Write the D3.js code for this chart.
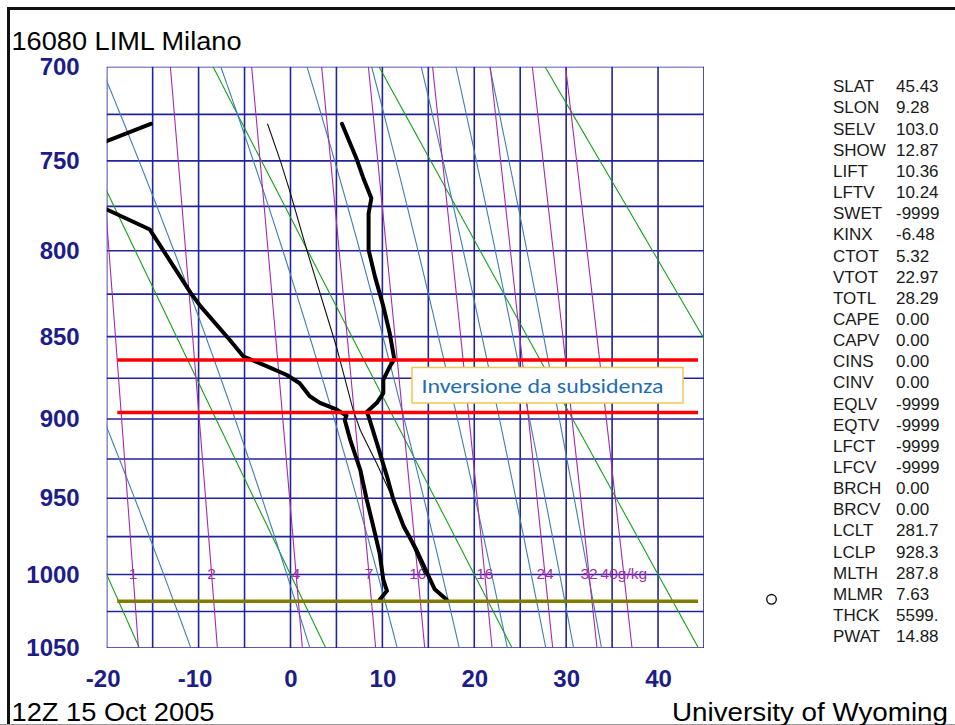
<!DOCTYPE html>
<html><head><meta charset="utf-8">
<script src="https://cdn.jsdelivr.net/npm/d3@7"></script>
<style>html,body{margin:0;padding:0;background:#fff;}svg{display:block;}</style>
</head><body>
<script>
// ---------- data ----------
const title = "16080 LIML Milano";
const dateLabel = "12Z 15 Oct 2005";
const sourceLabel = "University of Wyoming";
const pressureGrid = d3.range(700, 1051, 25);
const pressureLabels = [700, 750, 800, 850, 900, 950, 1000, 1050];
const tempGrid = d3.range(-20, 46, 5);
const tempLabels = [-20, -10, 0, 10, 20, 30, 40];
// dry adiabats: potential temperature (deg C at 1000 hPa)
const dryAdiabats = [-20, 0, 20, 40, 60];
// moist adiabats: temperature (deg C) at 1000 hPa
const moistAdiabats = [-13.8, -0.4, 9.5, 16.5, 21.9, 26.2, 29.3, 32.4];
// mixing ratio lines (g/kg)
const mixRatios = [1, 2, 4, 7, 10, 16, 24, 32, 40];
const mixLabels = ["1", "2", "4", "7", "10", "16", "24", "32", "40g/kg"];
// sounding: [pressure hPa, temperature C]
const temperature = [[730,5.6],[749,7.2],[759,7.9],[770.5,8.8],[779,8.5],[790,8.5],[799.5,8.5],[815,9.2],[832,10.1],[848,10.8],[863.5,11.3],[868,10.8],[876,10.1],[884,10.1],[890,9.4],[895.7,8.3],[898.4,8.5],[915,9.4],[936,10.5],[951,11.2],[968,12.3],[983.6,13.7],[1003.5,15.2],[1010,15.7],[1017,17.0]];
const dewpoint = [[730,-15.2],[745,-22.9],[758,-32],[770,-22.8],[776,-20.3],[788,-15.3],[824,-10.9],[832,-9.8],[852,-6.6],[862,-5.1],[866,-3.3],[873,-0.4],[878,1.0],[886,2.1],[890,3.2],[894,5.0],[898,6.1],[900.5,5.9],[913,6.5],[932,7.6],[951,8.3],[968,9.0],[986,9.7],[1003.5,10.1],[1011,10.5],[1017,9.7]];
const parcel = [[730,-2.5],[750,-1.1],[767,-0.05],[800,1.8],[856,5.0],[894,6.8],[907,7.6],[928,9.4],[951,11.2],[1000,14.6]];
// annotation levels (hPa) and surface line
const inversionLevels = [864, 896];
const surfaceLevel = 1018;
const annotationSpan = [-18.85, 44.35];
const annotationText = "Inversione da subsidenza";
const indexNames = ["SLAT","SLON","SELV","SHOW","LIFT","LFTV","SWET","KINX","CTOT","VTOT","TOTL","CAPE","CAPV","CINS","CINV","EQLV","EQTV","LFCT","LFCV","BRCH","BRCV","LCLT","LCLP","MLTH","MLMR","THCK","PWAT"];
const indexValues = ["45.43","9.28","103.0","12.87","10.36","10.24","-9999","-6.48","5.32","22.97","28.29","0.00","0.00","0.00","0.00","-9999","-9999","-9999","-9999","0.00","0.00","281.7","928.3","287.8","7.63","5599.","14.88"];

// ---------- layout ----------
const W = 955, H = 725;
const L = 106.7, R = 704, T = 66.7, B = 648;
const svg = d3.select("body").append("svg").attr("width", W).attr("height", H)
  .style("font-family", "'Liberation Sans', Arial, Helvetica, sans-serif");
svg.append("rect").attr("width", W).attr("height", H).attr("fill", "#fff");

const x = d3.scaleLinear().domain([-20, 45]).range([L, R]);
const y = d3.scalePow().exponent(0.286).domain([700, 1050]).range([T, B]);
const line = d3.line().x(d => x(d[1])).y(d => y(d[0]));

svg.append("clipPath").attr("id", "plot").append("rect")
  .attr("x", L).attr("y", T).attr("width", R - L).attr("height", B - T);

// frame lines of the picture
svg.append("line").attr("x1", 7).attr("x2", W).attr("y1", 8.5).attr("y2", 8.5).attr("stroke", "#111").attr("stroke-width", 3);
svg.append("line").attr("x1", 8.5).attr("x2", 8.5).attr("y1", 7).attr("y2", H).attr("stroke", "#111").attr("stroke-width", 3);
svg.append("line").attr("x1", 0).attr("x2", W).attr("y1", H - 0.5).attr("y2", H - 0.5).attr("stroke", "#999").attr("stroke-width", 1);

const gridColor = "#23239a";
const g = svg.append("g").attr("clip-path", "url(#plot)");

// grid
g.selectAll(".hg").data(pressureGrid).join("line")
  .attr("x1", L).attr("x2", R).attr("y1", d => y(d)).attr("y2", d => y(d))
  .attr("stroke", gridColor).attr("stroke-width", 1.6);
g.selectAll(".vg").data(tempGrid).join("line")
  .attr("y1", T).attr("y2", B).attr("x1", d => x(d)).attr("x2", d => x(d))
  .attr("stroke", gridColor).attr("stroke-width", 1.6);

const pSamples = d3.range(700, 1050.01, 5);

// dry adiabats
const kappa = 0.286;
g.selectAll(".dry").data(dryAdiabats).join("path")
  .attr("d", th => line(pSamples.map(p => [p, (th + 273.15) * Math.pow(p / 1000, kappa) - 273.15])))
  .attr("fill", "none").attr("stroke", "#17a017").attr("stroke-width", 1.1);

// moist (pseudo) adiabats
function dTdp(p, Tk) {
  const Rd = 287.04, cp = 1005.7, Lv = 2.501e6, eps = 0.622;
  const es = 6.112 * Math.exp(17.67 * (Tk - 273.15) / (Tk - 29.65));
  const rs = eps * es / (p - es);
  return (Rd * Tk + Lv * rs) / (p * (cp + Lv * Lv * rs * eps / (Rd * Tk * Tk)));
}
function integrate(T0, p0, p1) {
  const out = [[p0, T0 - 273.15]];
  let p = p0, Tk = T0;
  const dir = p1 < p0 ? -1 : 1;
  while ((p1 - p) * dir > 1e-9) {
    const h = dir * Math.min(2, Math.abs(p1 - p));
    const k1 = dTdp(p, Tk), k2 = dTdp(p + h / 2, Tk + h / 2 * k1),
          k3 = dTdp(p + h / 2, Tk + h / 2 * k2), k4 = dTdp(p + h, Tk + h * k3);
    Tk += h / 6 * (k1 + 2 * k2 + 2 * k3 + k4); p += h;
    out.push([p, Tk - 273.15]);
  }
  return out;
}
g.selectAll(".moist").data(moistAdiabats).join("path")
  .attr("d", t => {
    const up = integrate(t + 273.15, 1000, 700).reverse();
    const dn = integrate(t + 273.15, 1000, 1050).slice(1);
    return line(up.concat(dn));
  })
  .attr("fill", "none").attr("stroke", "#3d7db6").attr("stroke-width", 1.1);

// mixing ratio lines
function tdFromW(w, p) {
  const e = w * p / (622 + w);
  const a = Math.log(e / 6.112);
  return 243.5 * a / (17.67 - a);
}
g.selectAll(".mix").data(mixRatios).join("path")
  .attr("d", w => line(pSamples.map(p => [p, tdFromW(w, p)])))
  .attr("fill", "none").attr("stroke", "#a52aad").attr("stroke-width", 1.1);

// mixing ratio labels
svg.append("g").selectAll("text").data(mixRatios).join("text")
  .attr("x", w => x(tdFromW(w, 1000))).attr("y", y(1000) + 4.5)
  .attr("text-anchor", "middle").attr("font-size", 15.5).attr("fill", "#a52aad")
  .text((w, i) => mixLabels[i]);

// axes
const navy = "#1c1c8a";
const yAxis = svg.append("g").attr("transform", `translate(${L},0)`)
  .call(d3.axisLeft(y).tickValues(pressureLabels).tickSize(0).tickPadding(27).tickFormat(d => String(d)));
yAxis.select(".domain").remove();
yAxis.selectAll("text").attr("font-size", 24).attr("font-weight", "bold").attr("fill", navy)
  .attr("font-family", "'Liberation Sans', Arial, sans-serif");
const xAxis = svg.append("g").attr("transform", `translate(0,${B})`)
  .call(d3.axisBottom(x).tickValues(tempLabels).tickSize(0).tickPadding(22).tickFormat(d => String(d)));
xAxis.select(".domain").remove();
xAxis.selectAll("text").attr("font-size", 24).attr("font-weight", "bold").attr("fill", navy)
  .attr("font-family", "'Liberation Sans', Arial, sans-serif")
  .attr("dx", d => d < 0 ? -4 : 0);

// sounding
const dg = svg.append("g").attr("clip-path", "url(#plot)");
dg.append("path").attr("d", line(parcel)).attr("fill", "none").attr("stroke", "#111").attr("stroke-width", 1.1);
dg.append("path").attr("d", line(dewpoint)).attr("fill", "none").attr("stroke", "#000")
  .attr("stroke-width", 4).attr("stroke-linejoin", "round").attr("stroke-linecap", "round");
dg.append("path").attr("d", line(temperature)).attr("fill", "none").attr("stroke", "#000")
  .attr("stroke-width", 4).attr("stroke-linejoin", "round").attr("stroke-linecap", "round");

// surface & inversion lines
svg.append("line").attr("x1", x(annotationSpan[0])).attr("x2", x(annotationSpan[1]))
  .attr("y1", y(surfaceLevel)).attr("y2", y(surfaceLevel)).attr("stroke", "#817c00").attr("stroke-width", 3.5);
svg.selectAll(".inv").data(inversionLevels).join("line")
  .attr("x1", x(annotationSpan[0])).attr("x2", x(annotationSpan[1]))
  .attr("y1", d => y(d)).attr("y2", d => y(d)).attr("stroke", "#ff0000").attr("stroke-width", 3.5);

// annotation box
svg.append("rect").attr("x", 412).attr("y", 367.5).attr("width", 271).attr("height", 35.5)
  .attr("fill", "#fff").attr("stroke", "#f2c655").attr("stroke-width", 1.5);
svg.append("text").attr("x", 421.5).attr("y", 392.5).attr("font-size", 20.5).attr("fill", "#1f6db3")
  .attr("font-family", "Carlito, 'Liberation Sans', Arial, sans-serif")
  .attr("textLength", 242).attr("lengthAdjust", "spacingAndGlyphs").text(annotationText);

// calm wind circle
svg.append("circle").attr("cx", 771.5).attr("cy", 599.3).attr("r", 4.8)
  .attr("fill", "none").attr("stroke", "#111").attr("stroke-width", 1.4);

// title and footer
svg.append("text").attr("x", 11.5).attr("y", 50).attr("font-size", 25).attr("fill", "#000")
  .attr("textLength", 230).attr("lengthAdjust", "spacingAndGlyphs").text(title);
svg.append("text").attr("x", 11.5).attr("y", 721).attr("font-size", 25).attr("fill", "#000")
  .attr("textLength", 203).attr("lengthAdjust", "spacingAndGlyphs").text(dateLabel);
svg.append("text").attr("x", 672).attr("y", 721).attr("font-size", 25).attr("fill", "#000")
  .attr("textLength", 276).attr("lengthAdjust", "spacingAndGlyphs").text(sourceLabel);

// index table
const tbl = svg.append("g").attr("font-size", 17).attr("fill", "#1a1a1a");
tbl.selectAll(".nm").data(indexNames).join("text")
  .attr("x", 833).attr("y", (d, i) => 92.3 + i * 21.15).text(d => d);
tbl.selectAll(".vl").data(indexValues).join("text")
  .attr("x", 896).attr("y", (d, i) => 92.3 + i * 21.15).text(d => d);
</script>
</body></html>
